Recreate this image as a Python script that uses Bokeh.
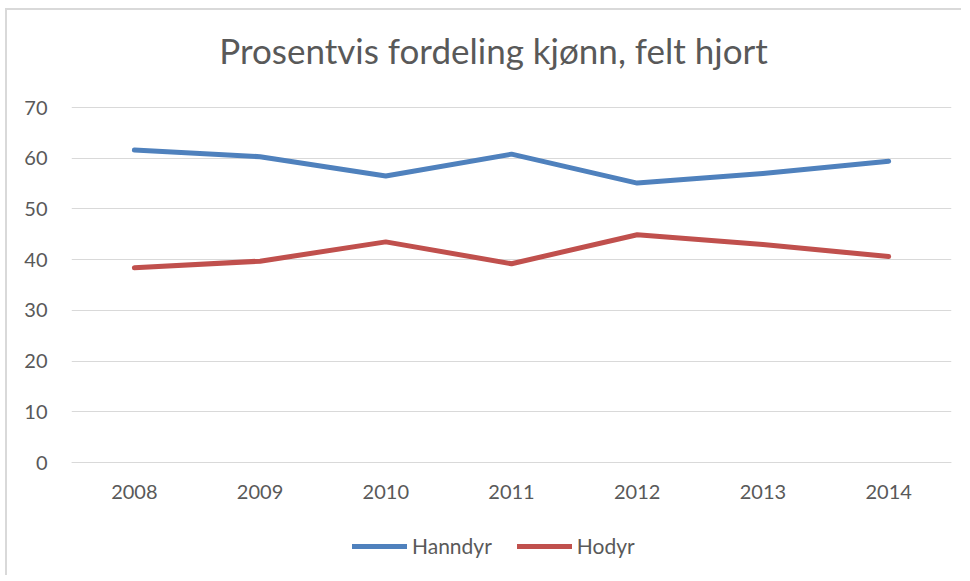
from bokeh.plotting import figure
from bokeh.models import Legend, LegendItem, FixedTicker, Range1d, Label
from bokeh.embed import file_html
from bokeh.resources import INLINE

years = ["2008", "2009", "2010", "2011", "2012", "2013", "2014"]
hanndyr = [61.6, 60.3, 56.5, 60.8, 55.1, 57.0, 59.4]
hodyr = [38.4, 39.7, 43.5, 39.2, 44.9, 43.0, 40.6]
y_ticks = [0, 10, 20, 30, 40, 50, 60, 70]
title_text = "Prosentvis fordeling kjønn, felt hjort"
series_names = ["Hanndyr", "Hodyr"]

FONT = "Lato"
TXT = "#595959"

# layout (pixels)
PLOT_H = 355          # height of the 0..70 region
TOP_PAD = 97          # space above 70 line (title)
BOT_PAD = 113         # space below 0 line (axis labels + legend)
PXU = PLOT_H / 70.0

p = figure(x_range=years,
           y_range=Range1d(-BOT_PAD / PXU, 70 + TOP_PAD / PXU),
           frame_width=880, frame_height=PLOT_H + TOP_PAD + BOT_PAD,
           output_backend="svg", toolbar_location=None,
           min_border_left=64, min_border_right=10, min_border_top=0,
           min_border_bottom=0)
p.styles = {"border-left": "2px solid #d9d9d9", "border-top": "2px solid #d9d9d9",
            "margin-left": "5px", "margin-top": "8px"}
p.outline_line_color = None
p.background_fill_color = "white"
p.border_fill_color = "white"

r1 = p.line(years, hanndyr, line_color="#4F81BD", line_width=5, line_cap="round", line_join="round")
r2 = p.line(years, hodyr, line_color="#C0504D", line_width=5, line_cap="round", line_join="round")

p.xgrid.grid_line_color = None
p.ygrid.grid_line_color = "#d9d9d9"
p.ygrid.grid_line_width = 1
p.yaxis.ticker = FixedTicker(ticks=y_ticks)

for ax in (p.xaxis[0], p.yaxis[0]):
    ax.major_tick_line_color = None
    ax.minor_tick_line_color = None
    ax.major_label_text_font = FONT
    ax.major_label_text_font_size = "20px"
    ax.major_label_text_color = TXT
p.yaxis.axis_line_color = None
p.xaxis.axis_line_color = "#d9d9d9"
p.xaxis.fixed_location = 0
p.yaxis.major_label_standoff = 18
p.xaxis.major_label_standoff = 16

title = Label(x=422, y=PLOT_H + BOT_PAD + 58, x_units="screen", y_units="screen",
              text=title_text, text_font=FONT, text_font_size="35px",
              text_color=TXT, text_align="center", text_baseline="alphabetic")
p.add_layout(title)

legend = Legend(items=[LegendItem(label=series_names[0], renderers=[r1]),
                       LegendItem(label=series_names[1], renderers=[r2])],
                orientation="horizontal", location=(281, 17),
                label_text_font=FONT, label_text_font_size="21px",
                label_text_color=TXT, glyph_width=55, glyph_height=20,
                label_standoff=5, spacing=25, border_line_color=None,
                background_fill_alpha=0, margin=0, padding=5)
p.add_layout(legend, "center")

open("out.html", "w").write(file_html(p, INLINE))
